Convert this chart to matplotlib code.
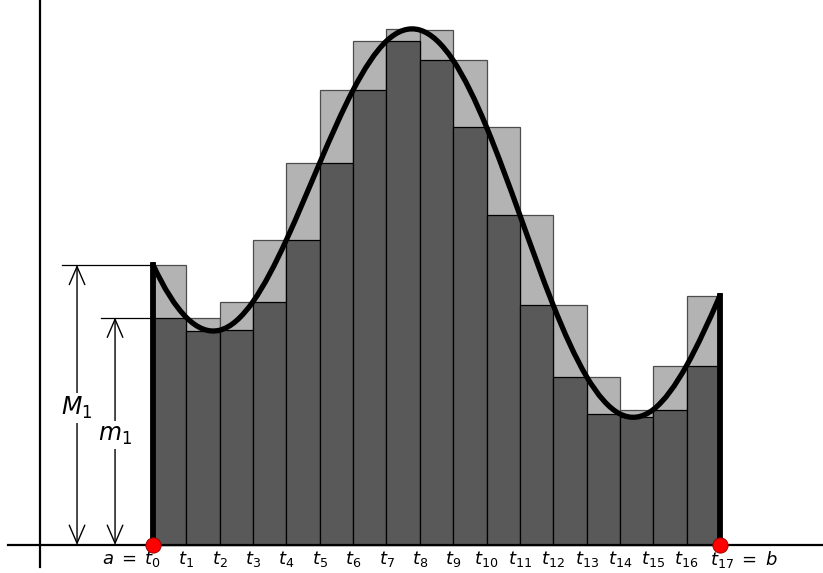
import numpy as np
import matplotlib.pyplot as plt
from matplotlib.path import Path
from matplotlib.patches import PathPatch

plt.rcParams['mathtext.fontset'] = 'dejavusans'

# partition points t0 .. t17 (index units)
n = 17
t_edges = np.arange(n + 1)

# upper sums M_i and lower sums m_i (heights)
M = [8.40, 6.82, 7.30, 9.15, 11.46, 13.64, 15.11, 15.47, 15.44,
     14.53, 12.53, 9.89, 7.19, 5.05, 4.06, 5.38, 7.48]
m = [6.82, 6.42, 6.44, 7.30, 9.15, 11.46, 13.64, 15.11, 14.53,
     12.53, 9.89, 7.19, 5.05, 3.93, 3.83, 4.06, 5.38]

# f(t_i) at the partition points
f_t = [8.40, 6.82, 6.44, 7.30, 9.15, 11.46, 13.64, 15.11, 15.44, 14.53,
       12.53, 9.89, 7.19, 5.05, 3.93, 4.06, 5.38, 7.48]

tick_labels = [r"$a\;=\;t_{0}$"] + ["$t_{%d}$" % i for i in range(1, n)] + [r"$t_{17}\;=\;b$"]


def smooth_path(ys):
    # smooth bezier path through the points (cubic spline, not-a-knot ends)
    ys = np.asarray(ys, float)
    k = len(ys)
    A = np.zeros((k, k))
    r = np.zeros(k)
    A[0, 0], A[0, 2] = 1, -1
    r[0] = 4 * ys[1] - 2 * ys[0] - 2 * ys[2]
    for i in range(1, k - 1):
        A[i, i - 1], A[i, i], A[i, i + 1] = 1, 4, 1
        r[i] = 3 * (ys[i + 1] - ys[i - 1])
    A[-1, -3], A[-1, -1] = 1, -1
    r[-1] = 4 * ys[-2] - 2 * ys[-3] - 2 * ys[-1]
    d = np.linalg.solve(A, r)
    verts = [(0, ys[0])]
    codes = [Path.MOVETO]
    for i in range(k - 1):
        verts += [(i + 1 / 3, ys[i] + d[i] / 3),
                  (i + 2 / 3, ys[i + 1] - d[i + 1] / 3),
                  (i + 1, ys[i + 1])]
        codes += [Path.CURVE4] * 3
    return Path(verts, codes)


fig = plt.figure(figsize=(8.23, 5.73), dpi=100)
ax = fig.add_axes([0, 0, 1, 1])
ax.set_xlim(-4.59, 20.09)
ax.set_ylim(-0.84, 16.34)
ax.axis("off")

left = t_edges[:-1]
# upper rectangles
ax.bar(left, M, width=1, align="edge", color="#b3b3b3",
       edgecolor="#4d4d4d", linewidth=0.9, zorder=2)
# lower rectangles
ax.bar(left, m, width=1, align="edge", color="#595959",
       edgecolor="black", linewidth=0.9, zorder=3)

# axes lines
ax.plot([-4.35, 20.09], [0, 0], color="black", lw=1.6, zorder=4)
ax.plot([-3.39, -3.39], [-0.66, 16.34], color="black", lw=1.6, zorder=4)

# curve and its end walls
ax.add_patch(PathPatch(smooth_path(f_t), facecolor="none",
                       edgecolor="black", lw=3.8, capstyle="round",
                       joinstyle="round", zorder=5))
ax.plot([0, 0], [0, f_t[0]], color="black", lw=4.2, zorder=5)
ax.plot([n, n], [0, f_t[-1]], color="black", lw=4.2, zorder=5)

# endpoints a and b
ax.plot([0, n], [0, 0], "o", color="red", markersize=11,
        markeredgecolor="#8b0000", markeredgewidth=0.6, zorder=6)

# M_1 and m_1 measures
ax.plot([-2.72, 0], [M[0], M[0]], color="black", lw=0.9, zorder=4)
ax.plot([-1.56, 0], [m[0], m[0]], color="black", lw=0.9, zorder=4)
arrow = dict(arrowstyle="<->,head_length=0.65,head_width=0.28",
             color="black", lw=1.0, mutation_scale=20,
             shrinkA=0, shrinkB=0)
ax.annotate("", xy=(-2.28, 0), xytext=(-2.28, M[0]), arrowprops=arrow, zorder=4)
ax.annotate("", xy=(-1.14, 0), xytext=(-1.14, m[0]), arrowprops=arrow, zorder=4)
box = dict(facecolor="white", edgecolor="none", pad=1.5)
ax.text(-2.28, 4.11, "$M_1$", fontsize=17, ha="center", va="center",
        bbox=box, zorder=5)
ax.text(-1.14, 3.30, "$m_1$", fontsize=17, ha="center", va="center",
        bbox=box, zorder=5)

# tick labels along the axis
for i, lab in enumerate(tick_labels):
    if i == 0:
        ax.text(0.25, -0.12, lab, fontsize=13, ha="right", va="top")
    elif i == n:
        ax.text(n - 0.3, -0.12, lab, fontsize=13, ha="left", va="top")
    else:
        ax.text(i, -0.12, lab, fontsize=13, ha="center", va="top")

fig.savefig("out.png", dpi=100)
